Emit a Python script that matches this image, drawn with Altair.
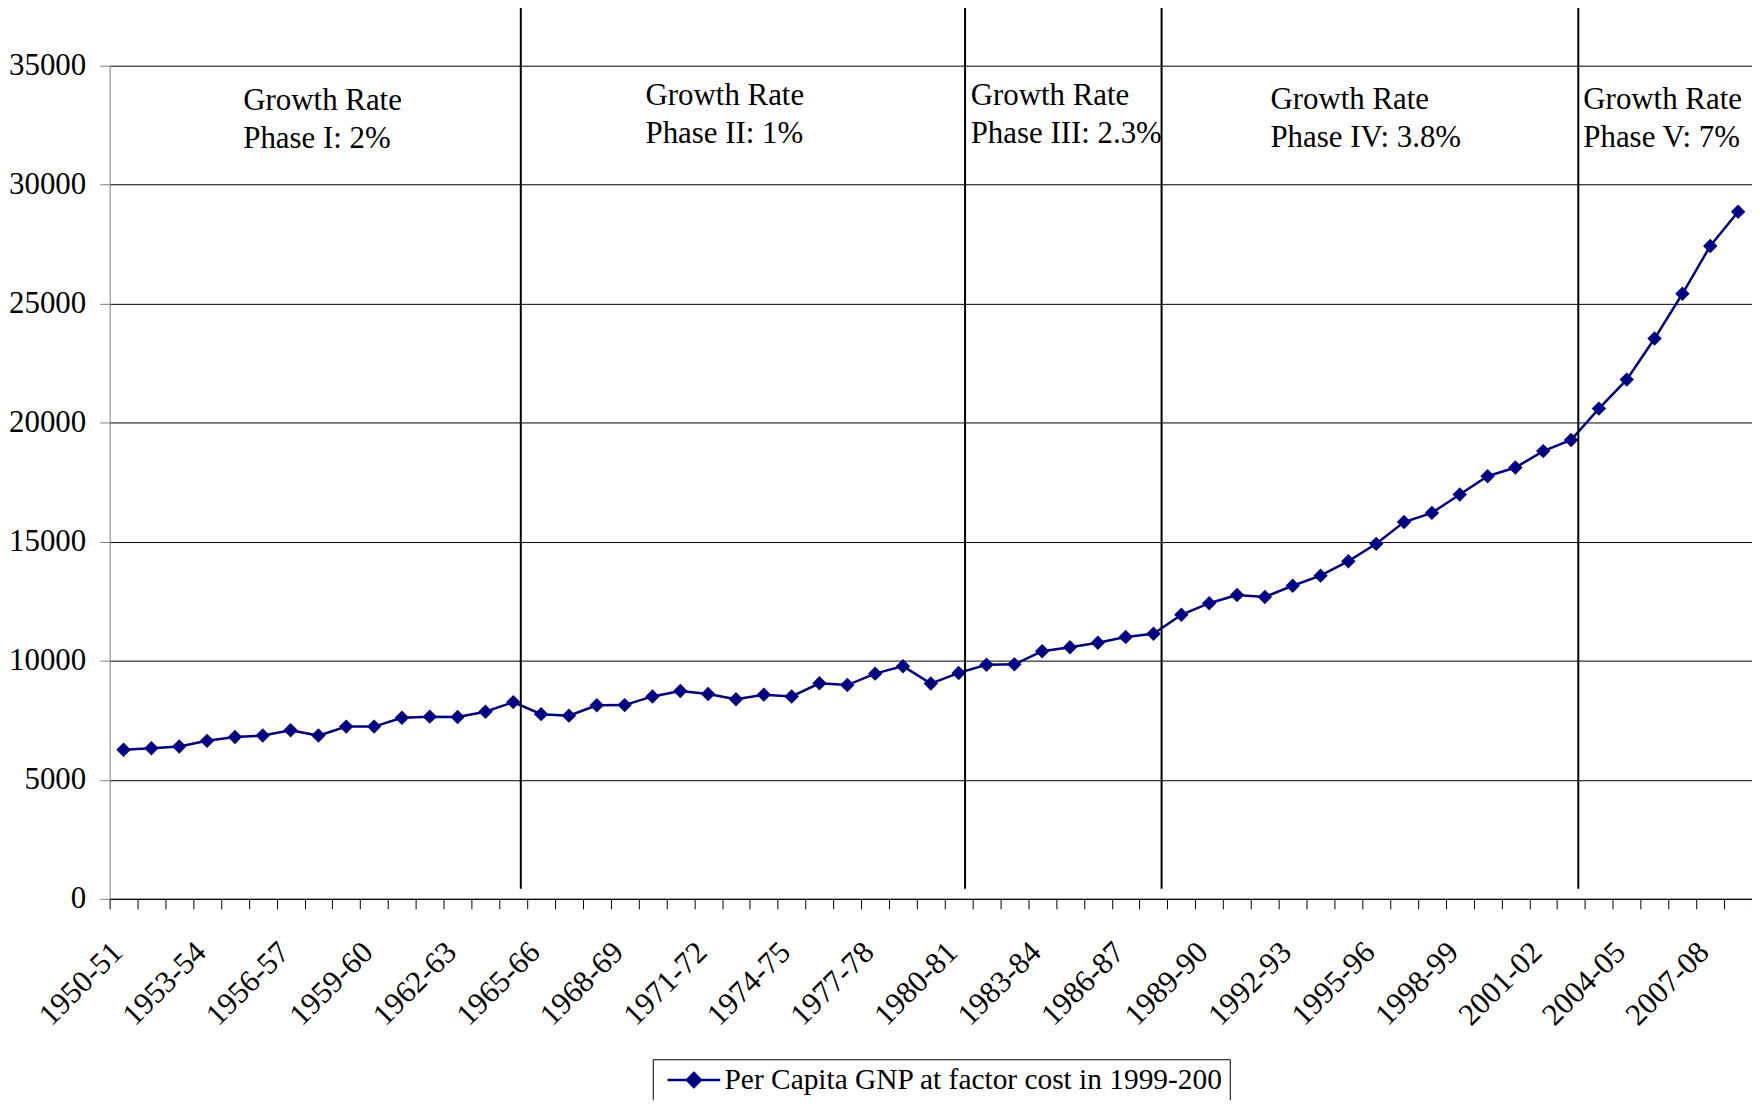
import json
import altair as alt
import pandas as pd

# ---- data -------------------------------------------------------------
start_years = list(range(1950, 2009))
years = [f"{y}-{(y + 1) % 100:02d}" for y in start_years]
gnp = [6259, 6322, 6397, 6636, 6799, 6857, 7083, 6857, 7234, 7234,
       7607, 7653, 7640, 7862, 8264, 7758, 7695, 8130, 8138, 8502,
       8728, 8607, 8385, 8577, 8502, 9054, 8979, 9460, 9774, 9042,
       9490, 9833, 9849, 10402, 10565, 10758, 11000, 11134, 11933, 12418,
       12766, 12682, 13151, 13577, 14184, 14912, 15828, 16213, 16983, 17753,
       18117, 18808, 19276, 20594, 21812, 23536, 25418, 27427, 28866]
series_name = "Per Capita GNP at factor cost in 1999-2000 prices"

# phase boundaries, in category-index units
phase_bounds = [14.27, 30.23, 37.29, 52.26]
phase_line1 = ["Growth Rate", "Growth Rate", "Growth Rate", "Growth Rate", "Growth Rate"]
phase_line2 = ["Phase I: 2%", "Phase II: 1%", "Phase III: 2.3%", "Phase IV: 3.8%", "Phase V: 7%"]
phase_label_x = [4.3, 18.75, 30.43, 41.2, 52.44]
phase_label_y = [33140, 33350, 33350, 33180, 33180]

y_ticks = [0, 5000, 10000, 15000, 20000, 25000, 30000, 35000]

# ---- tables -----------------------------------------------------------
n = len(years)
df = pd.DataFrame({"idx": list(range(n)), "year": years, "gnp": gnp,
                   "series": [series_name] * n})
bounds_df = pd.DataFrame({"pos": phase_bounds})
ann_df = pd.DataFrame({"x": phase_label_x, "y": phase_label_y,
                       "text": [a + "\n" + b for a, b in zip(phase_line1, phase_line2)]})

W, H = 1648, 836
band = W / n
FONT = "Liberation Serif"
NAVY = "#000080"

x_scale = alt.Scale(domain=[-0.5, n - 0.5], nice=False, zero=False)
y_scale = alt.Scale(domain=[0, 35000], nice=False, zero=False)

boundaries = [i - 0.5 for i in range(n + 1)]
label_expr = (f"((datum.value + 0.5) % 3 == 0 && datum.value + 0.5 < {n}) ? "
              f"{json.dumps(years)}[datum.value + 0.5] : ''")

x_axis = alt.Axis(values=boundaries, tickCount=200, labelExpr=label_expr, labelOffset=band / 2,
                  labelAngle=315, labelAlign="right", labelBaseline="alphabetic",
                  labelPadding=45, labelOverlap=False, labelFlush=False, labelBound=False,
                  tickSize=10, tickColor="black", domainColor="black", grid=False,
                  title=None, labelFont=FONT, labelFontSize=31, labelColor="black")
y_axis = alt.Axis(values=y_ticks, format="d", grid=True, gridColor="black", gridWidth=1,
                  domainColor="#808080", tickColor="#808080", tickSize=10, labelPadding=14,
                  labelFont=FONT, labelFontSize=31, labelColor="black", title=None)

legend = alt.Legend(title=None, orient="none", legendX=545, legendY=997,
                    strokeColor="black", fillColor="white", padding=6,
                    labelFont=FONT, labelFontSize=29.5, labelColor="black",
                    labelExpr="slice(datum.label, 0, 41)", labelLimit=2000,
                    symbolType="M-2.65,0H2.65M0,-0.7L0.7,0L0,0.7L-0.7,0Z", symbolSize=400,
                    symbolStrokeColor=NAVY, symbolFillColor=NAVY, symbolStrokeWidth=2.5,
                    symbolOffset=20.5, labelOffset=16)

base = alt.Chart(df)
line = base.mark_line(color=NAVY, strokeWidth=2.5).encode(
    x=alt.X("idx:Q", scale=x_scale, axis=x_axis, title=None),
    y=alt.Y("gnp:Q", scale=y_scale, axis=y_axis, title=None),
)
points = base.mark_point(shape="diamond", filled=True, size=210, opacity=1).encode(
    x=alt.X("idx:Q", title=None),
    y=alt.Y("gnp:Q", title=None),
    color=alt.Color("series:N", scale=alt.Scale(domain=[series_name], range=[NAVY]), legend=legend),
)
rules = alt.Chart(bounds_df).mark_rule(color="black", strokeWidth=2).encode(
    x=alt.X("pos:Q", title=None),
    y=alt.datum(37500),
    y2=alt.datum(420),
)
texts = alt.Chart(ann_df).mark_text(align="left", baseline="alphabetic", font=FONT, fontSize=31,
                                    lineHeight=38.5, lineBreak="\n", color="black").encode(
    x=alt.X("x:Q", title=None),
    y=alt.Y("y:Q", title=None),
    text="text:N",
)

chart = alt.layer(line, points, rules, texts).properties(
    width=W, height=H,
    autosize=alt.AutoSizeParams(type="none"),
    padding={"left": 102, "top": 56, "right": 0, "bottom": 200},
).configure(background="white", font=FONT).configure_view(stroke=None)

chart.save("out.html", embed_options={"renderer": "svg", "actions": False})
